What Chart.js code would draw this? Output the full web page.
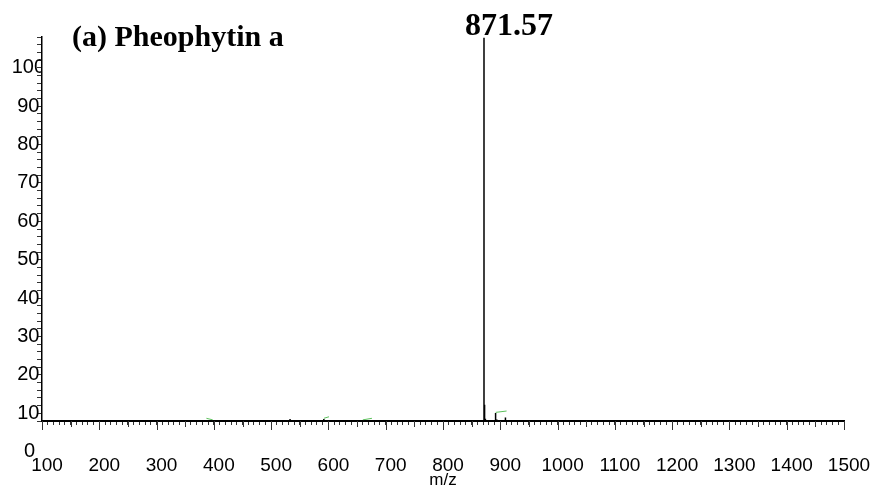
<!DOCTYPE html>
<html lang="en">
<head>
    <meta charset="UTF-8">
    <title>Pheophytin a</title>
    <style>
        body {
            margin: 0;
            padding: 0;
            background: #FFF;
        }

        .chart-box {
            width: 882px;
            height: 490px;
        }
    </style>
</head>
<body>
<div class="chart-box">
    <canvas id="spectrumChart"></canvas>
</div>
<script src="https://cdn.jsdelivr.net/npm/chart.js"></script>
<script>
    // peaks (m/z, relative intensity on the drawn scale)
    const peakMz = [533, 592, 871.57, 872.6, 874, 891.8, 894, 909];
    const peakInt = [8.5, 8.5, 107.8, 12.2, 8.6, 10.1, 8.4, 8.9];
    const baseLevel = 8;

    // little green marks near the baseline
    const greenMz = [[387, 398], [592, 601], [660, 676], [892, 911]];
    const greenInt = [[8.7, 8.3], [8.7, 9.1], [8.3, 8.7], [10.25, 10.6]];

    const xRange = [100, 1500];
    const yRange = [8, 108];
    const yLabels = [0, 10, 20, 30, 40, 50, 60, 70, 80, 90, 100];
    const titleText = '(a) Pheophytin a';
    const peakLabel = '871.57';
    const basePeak = 871.57;

    // stick spectrum
    const stickPoints = [{x: xRange[0], y: baseLevel}];
    peakMz.forEach((mz, i) => {
        stickPoints.push({x: mz, y: baseLevel});
        stickPoints.push({x: mz, y: peakInt[i]});
        stickPoints.push({x: mz, y: baseLevel});
    });
    stickPoints.push({x: xRange[1], y: baseLevel});

    const greenPoints = [];
    greenMz.forEach((seg, i) => {
        greenPoints.push({x: seg[0], y: greenInt[i][0]});
        greenPoints.push({x: seg[1], y: greenInt[i][1]});
        greenPoints.push({x: seg[1], y: null});
    });

    // texts and the longer x ticks
    const extras = {
        id: 'extras',
        afterDraw(chart) {
            const ctx = chart.ctx;
            const xs = chart.scales.x;
            const ys = chart.scales.y;
            ctx.save();
            ctx.strokeStyle = '#333';
            ctx.lineWidth = 1;
            for (let v = xRange[0]; v <= xRange[1]; v += 50) {
                const px = Math.round(xs.getPixelForValue(v)) + 0.5;
                const len = v % 100 === 0 ? 9 : 6;
                ctx.beginPath();
                ctx.moveTo(px, xs.top);
                ctx.lineTo(px, xs.top + len);
                ctx.stroke();
            }

            ctx.fillStyle = '#000';
            ctx.font = '20px "Liberation Sans", Arial, sans-serif';
            ctx.textAlign = 'center';
            ctx.textBaseline = 'middle';
            ctx.fillText('0', ys.right - 12.5, ys.getPixelForValue(0));

            ctx.font = 'bold 30px "Liberation Serif", serif';
            ctx.textAlign = 'left';
            ctx.textBaseline = 'alphabetic';
            ctx.fillText(titleText, 72, 46);

            ctx.font = 'bold 32px "Liberation Serif", serif';
            ctx.textAlign = 'center';
            ctx.fillText(peakLabel, xs.getPixelForValue(basePeak) + 25, 35);
            ctx.restore();
        }
    };

    const ctx = document.getElementById('spectrumChart').getContext('2d');
    new Chart(ctx, {
        type: 'line',
        data: {
            datasets: [
                {
                    data: stickPoints,
                    borderColor: '#000',
                    borderWidth: 1.5,
                    pointRadius: 0,
                    tension: 0
                },
                {
                    data: greenPoints,
                    borderColor: '#5cc05c',
                    borderWidth: 1,
                    pointRadius: 0,
                    spanGaps: false
                }
            ]
        },
        options: {
            responsive: true,
            maintainAspectRatio: false,
            animation: false,
            layout: {
                padding: {top: 37, right: 38, left: 0, bottom: 0}
            },
            plugins: {
                legend: {display: false},
                tooltip: {enabled: false}
            },
            scales: {
                x: {
                    type: 'linear',
                    min: xRange[0],
                    max: xRange[1],
                    afterBuildTicks(scale) {
                        const t = [];
                        for (let v = xRange[0]; v <= xRange[1]; v += 10) t.push({value: v});
                        scale.ticks = t;
                    },
                    afterFit(scale) {
                        scale.height = 69;
                        scale.paddingLeft = 0;
                        scale.paddingRight = 0;
                    },
                    grid: {
                        drawOnChartArea: false,
                        tickLength: 4,
                        color: '#333'
                    },
                    border: {color: '#000', width: 2},
                    ticks: {
                        autoSkip: false,
                        maxRotation: 0,
                        minRotation: 0,
                        padding: 29,
                        labelOffset: 5,
                        color: '#000',
                        font: {family: '"Liberation Sans", Arial, sans-serif', size: 19},
                        callback: (v) => v % 100 === 0 ? String(v) : ''
                    },
                    title: {
                        display: true,
                        text: 'm/z',
                        color: '#000',
                        font: {family: '"Liberation Sans", Arial, sans-serif', size: 17, lineHeight: 1},
                        padding: {top: 0, bottom: 1}
                    }
                },
                y: {
                    min: yRange[0],
                    max: yRange[1],
                    afterBuildTicks(scale) {
                        const t = [];
                        for (let v = yRange[0]; v <= yRange[1]; v += 2) t.push({value: v});
                        scale.ticks = t;
                    },
                    afterFit(scale) {
                        scale.width = 42;
                        scale.paddingTop = 0;
                        scale.paddingBottom = 0;
                    },
                    grid: {
                        drawOnChartArea: false,
                        tickLength: 5,
                        color: '#333'
                    },
                    border: {color: '#000', width: 1.5},
                    ticks: {
                        autoSkip: false,
                        crossAlign: 'center',
                        padding: -8,
                        color: '#000',
                        font: {family: '"Liberation Sans", Arial, sans-serif', size: 20},
                        callback: (v) => (v % 10 === 0 && yLabels.includes(v)) ? String(v) : ''
                    }
                }
            }
        },
        plugins: [extras]
    });
</script>
</body>
</html>
